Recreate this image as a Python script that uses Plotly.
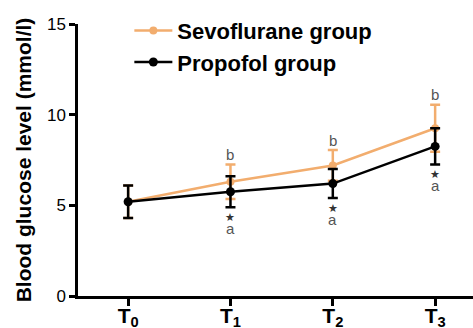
import plotly.graph_objects as go

categories = ["T<sub>0</sub>", "T<sub>1</sub>", "T<sub>2</sub>", "T<sub>3</sub>"]
x_pos = [0, 1, 2, 3]
sevo_mean = [5.2, 6.3, 7.2, 9.25]
sevo_err = [0.9, 0.95, 0.85, 1.3]
prop_mean = [5.2, 5.75, 6.2, 8.25]
prop_err = [0.9, 0.85, 0.8, 1.0]
sevo_marks = ["", "b", "b", "b"]
prop_marks = ["", "★", "★", "★"]
prop_marks2 = ["", "a", "a", "a"]

ORANGE = "#F2AD6E"
FONT = "Liberation Sans, Arial, sans-serif"
GRAY = "#555555"

fig = go.Figure()
fig.add_trace(go.Scatter(
    x=x_pos, y=sevo_mean, mode="lines+markers", name="Sevoflurane group",
    line=dict(color=ORANGE, width=2.5), marker=dict(color=ORANGE, size=8),
    error_y=dict(type="data", array=sevo_err, color=ORANGE, thickness=2.5, width=5),
    legendgroup="a"))
fig.add_trace(go.Scatter(
    x=x_pos, y=prop_mean, mode="lines+markers", name="Propofol group",
    line=dict(color="black", width=2.5), marker=dict(color="black", size=9),
    error_y=dict(type="data", array=prop_err, color="black", thickness=2.5, width=5),
    legendgroup="b"))

ann = []
for i in range(len(x_pos)):
    if sevo_marks[i]:
        ann.append(dict(x=x_pos[i], y=sevo_mean[i] + sevo_err[i], text=sevo_marks[i],
                        showarrow=False, yanchor="middle", yshift=10,
                        font=dict(family=FONT, size=15, color=GRAY)))
    if prop_marks[i]:
        ann.append(dict(x=x_pos[i], y=prop_mean[i] - prop_err[i], text=prop_marks[i],
                        showarrow=False, yanchor="middle", yshift=-10,
                        font=dict(family="DejaVu Sans", size=11, color="#333333")))
        ann.append(dict(x=x_pos[i], y=prop_mean[i] - prop_err[i], text=prop_marks2[i],
                        showarrow=False, yanchor="middle", yshift=-21,
                        font=dict(family=FONT, size=15, color=GRAY)))

fig.update_layout(
    width=473, height=328,
    margin=dict(l=78, r=0, t=24, b=32),
    paper_bgcolor="white", plot_bgcolor="white",
    font=dict(family=FONT, color="black"),
    showlegend=True,
    legend=dict(x=0.13, y=1.053, xanchor="left", yanchor="top",
                font=dict(family=FONT, size=22, color="black", weight="bold"),
                bgcolor="rgba(0,0,0,0)", tracegroupgap=0, itemwidth=38),
    annotations=ann,
    xaxis=dict(range=[-0.49, 3.37], tickvals=x_pos,
               ticktext=["<b>" + c + "</b>" for c in categories],
               showline=True, linecolor="black", linewidth=2.5,
               ticks="outside", ticklen=7, tickwidth=2.5, tickcolor="black",
               showgrid=False, zeroline=False, automargin=False,
               ticklabelstandoff=-8,
               tickfont=dict(family=FONT, size=21, color="black")),
    yaxis=dict(range=[0, 15], tickvals=[0, 5, 10, 15],
               showline=True, linecolor="black", linewidth=2.5,
               ticks="outside", ticklen=6, tickwidth=2.5, tickcolor="black",
               showgrid=False, zeroline=False, automargin=False,
               tickfont=dict(family=FONT, size=17, color="black"),
               title=dict(text="Blood glucose level (mmol/l)", standoff=10,
                          font=dict(family=FONT, size=21, color="black", weight="bold"))),
)

fig.write_html("out.html")
